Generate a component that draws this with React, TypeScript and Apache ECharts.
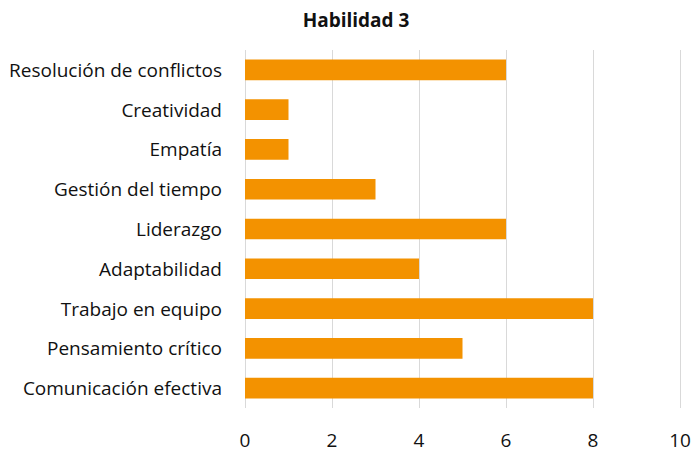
import React, { useEffect, useRef } from "react";
import * as echarts from "echarts";

const title = "Habilidad 3";
const categories = [
  "Comunicación efectiva",
  "Pensamiento crítico",
  "Trabajo en equipo",
  "Adaptabilidad",
  "Liderazgo",
  "Gestión del tiempo",
  "Empatía",
  "Creatividad",
  "Resolución de conflictos",
];
const values = [8, 5, 8, 4, 6, 3, 1, 1, 6];
const xMin = 0;
const xMax = 10;
const xInterval = 2;

export default function App() {
  const ref = useRef<HTMLDivElement>(null);
  useEffect(() => {
    if (!ref.current) return;
    const chart = echarts.init(ref.current, undefined, { renderer: "svg" });
    const font = "'Open Sans', sans-serif";
    chart.setOption({
      animation: false,
      title: {
        text: title,
        left: 351,
        top: 5,
        textAlign: "center",
        textStyle: { fontFamily: font, fontSize: 19, fontWeight: "bold", color: "#111" },
      },
      grid: { left: 245, right: 14, top: 50, bottom: 44, containLabel: false },
      xAxis: {
        type: "value",
        min: xMin,
        max: xMax,
        interval: xInterval,
        axisLine: { show: false },
        axisTick: { show: false },
        splitLine: { show: true, lineStyle: { color: "#d9d9d9", width: 1 } },
        axisLabel: { fontFamily: font, fontSize: 19, color: "#111", margin: 22 },
      },
      yAxis: {
        type: "category",
        data: categories,
        axisLine: { show: false },
        axisTick: { show: false },
        axisLabel: { fontFamily: font, fontSize: 19, color: "#111", margin: 23 },
      },
      series: [
        {
          type: "bar",
          data: values,
          barWidth: "52%",
          itemStyle: { color: "#F39200" },
        },
      ],
    });
    return () => chart.dispose();
  }, []);
  return <div ref={ref} style={{ width: 694, height: 452, position: "absolute", left: 0, top: 0 }} />;
}
